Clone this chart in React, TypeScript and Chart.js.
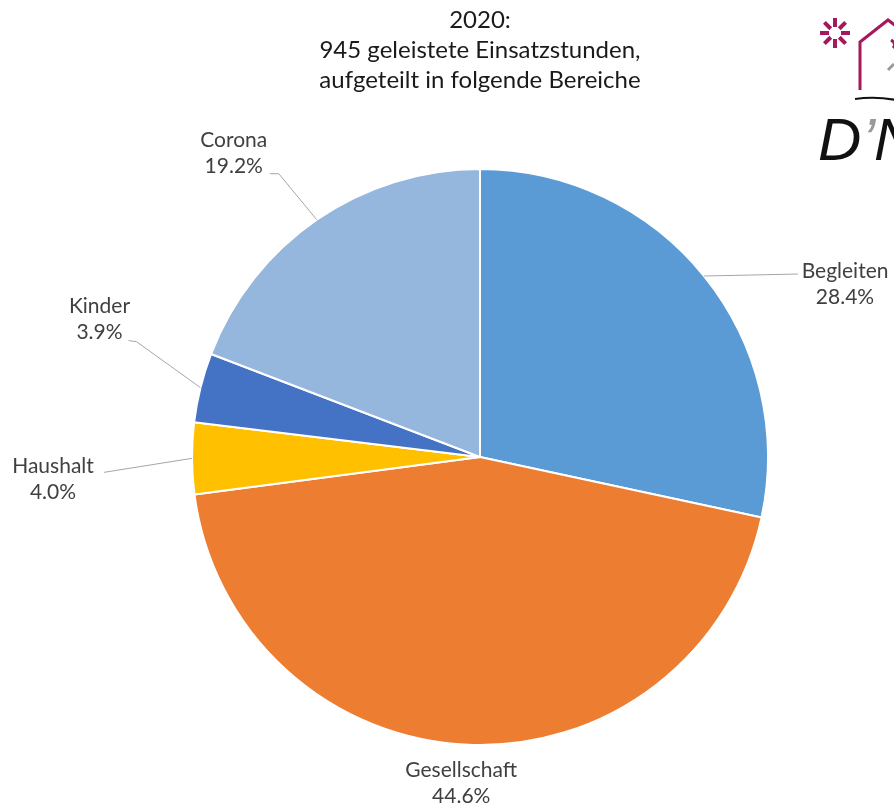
import React, { useEffect, useRef } from "react";
import { Chart, registerables } from "chart.js";

Chart.register(...registerables);

const categories = ["Begleiten", "Gesellschaft", "Haushalt", "Kinder", "Corona"];
const shares = [28.4, 44.6, 4.0, 3.9, 19.2];
const sliceColors = ["#5B9BD5", "#ED7D31", "#FFC000", "#4472C4", "#95B6DD"];
const titleLines = ["2020:", "945 geleistete Einsatzstunden,", "aufgeteilt in folgende Bereiche"];

// label placement relative to each slice's outer mid-point (style config, not data)
const labelText = [
  { dx: 141, dy: 8 },
  { dx: -7, dy: 38 },
  { dx: -139, dy: 21 },
  { dx: -101, dy: -68 },
  { dx: -83, dy: -66 },
];
const leaderLines: number[][][] = [
  [[0, 0], [94, -2]],
  [],
  [[0, 0], [-88, 14]],
  [[0, 0], [-64, -46], [-72, -47]],
  [[0, 0], [-38, -46], [-47, -46]],
];

const LABEL_FONT = "21px Lato, 'Open Sans', sans-serif";

const labelPlugin = {
  id: "sliceLabels",
  afterDatasetsDraw(chart: any) {
    const ctx = chart.ctx;
    const meta = chart.getDatasetMeta(0);
    ctx.save();
    meta.data.forEach((arc: any, i: number) => {
      const p = arc.getProps(["x", "y", "startAngle", "endAngle", "outerRadius"], true);
      const mid = (p.startAngle + p.endAngle) / 2;
      const ex = p.x + Math.cos(mid) * p.outerRadius;
      const ey = p.y + Math.sin(mid) * p.outerRadius;
      const pts = leaderLines[i];
      if (pts.length > 1) {
        ctx.strokeStyle = "#A6A6A6";
        ctx.lineWidth = 1;
        ctx.beginPath();
        pts.forEach((q, k) => {
          if (k === 0) ctx.moveTo(ex + q[0], ey + q[1]);
          else ctx.lineTo(ex + q[0], ey + q[1]);
        });
        ctx.stroke();
      }
      const tx = ex + labelText[i].dx;
      const ty = ey + labelText[i].dy;
      ctx.fillStyle = "#404040";
      ctx.font = LABEL_FONT;
      ctx.textAlign = "center";
      ctx.textBaseline = "middle";
      ctx.fillText(categories[i], tx, ty - 13);
      ctx.fillText(shares[i].toFixed(1) + "%", tx, ty + 13);
    });
    ctx.restore();
  },
};

const logoPlugin = {
  id: "logo",
  afterDraw(chart: any) {
    const ctx = chart.ctx;
    ctx.save();
    const pink = "#A3195B";
    // sparkle
    ctx.strokeStyle = pink;
    ctx.lineWidth = 4;
    ctx.lineCap = "butt";
    const cx = 835, cy = 33;
    for (let k = 0; k < 8; k++) {
      const a = (k * Math.PI) / 4;
      ctx.beginPath();
      ctx.moveTo(cx + Math.cos(a) * 6, cy + Math.sin(a) * 6);
      ctx.lineTo(cx + Math.cos(a) * 15, cy + Math.sin(a) * 15);
      ctx.stroke();
    }
    // house
    ctx.lineWidth = 3;
    ctx.beginPath();
    ctx.moveTo(860, 90);
    ctx.lineTo(860, 42);
    ctx.lineTo(888, 20);
    ctx.lineTo(896, 26);
    ctx.stroke();
    ctx.beginPath();
    ctx.moveTo(891, 40);
    ctx.quadraticCurveTo(897, 44, 893, 48);
    ctx.stroke();
    // grey swoosh
    ctx.strokeStyle = "#9A9A9A";
    ctx.lineWidth = 3;
    ctx.beginPath();
    ctx.moveTo(888, 70);
    ctx.lineTo(894, 64);
    ctx.stroke();
    // black line
    ctx.strokeStyle = "#111";
    ctx.lineWidth = 2;
    ctx.beginPath();
    ctx.moveTo(855, 99);
    ctx.quadraticCurveTo(875, 96, 896, 100);
    ctx.stroke();
    // D'N
    ctx.fillStyle = "#111";
    ctx.font = "italic 60px 'Liberation Sans', sans-serif";
    ctx.textAlign = "left";
    ctx.textBaseline = "alphabetic";
    ctx.fillText("D", 818, 160);
    ctx.fillStyle = "#9A9A9A";
    ctx.fillText("\u2019", 862, 160);
    ctx.fillStyle = "#111";
    ctx.fillText("N", 874, 160);
    ctx.restore();
  },
};

export default function App() {
  const ref = useRef<HTMLCanvasElement | null>(null);
  useEffect(() => {
    if (!ref.current) return;
    const chart = new Chart(ref.current, {
      type: "pie",
      data: {
        labels: categories,
        datasets: [
          {
            data: shares,
            backgroundColor: sliceColors,
            borderColor: "#FFFFFF",
            borderWidth: 2,
          },
        ],
      },
      options: {
        responsive: false,
        animation: false,
        radius: 288,
        layout: { padding: { left: 100, right: 34, top: 0, bottom: 58 } },
        plugins: {
          legend: { display: false },
          tooltip: { enabled: false },
          title: {
            display: true,
            text: titleLines,
            color: "#1A1A1A",
            font: { family: "Lato, 'Open Sans', sans-serif", size: 24, weight: "normal", lineHeight: 1.25 },
            padding: { top: 5, bottom: 70 },
          },
        },
      },
      plugins: [labelPlugin, logoPlugin],
    });
    return () => chart.destroy();
  }, []);
  return (
    <div style={{ position: "absolute", left: 0, top: 0, width: 894, height: 807, background: "#fff" }}>
      <canvas ref={ref} width={894} height={807} />
    </div>
  );
}
